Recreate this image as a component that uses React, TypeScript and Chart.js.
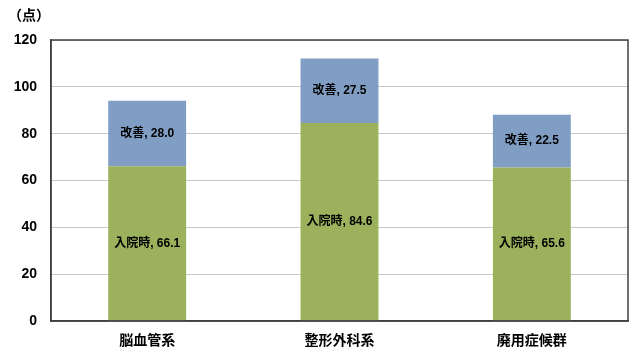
import React, { useEffect, useRef } from "react";
import { Chart, registerables } from "chart.js";

Chart.register(...registerables);

const categories = ["脳血管系", "整形外科系", "廃用症候群"];
const admissionValues = [66.1, 84.6, 65.6];
const improvementValues = [28.0, 27.5, 22.5];
const admissionName = "入院時";
const improvementName = "改善";
const yTicks = [0, 20, 40, 60, 80, 100, 120];
const unitLabel = "（点）";

const FONT = "'Liberation Sans', 'Noto Sans CJK JP', sans-serif";

export default function App() {
  const ref = useRef<HTMLCanvasElement | null>(null);
  useEffect(() => {
    document.body.style.margin = "0";
    const canvas = ref.current!;
    const labelPlugin = {
      id: "labels",
      afterDatasetsDraw(chart: any) {
        const ctx = chart.ctx;
        ctx.save();
        ctx.fillStyle = "#000";
        ctx.font = "bold 12px " + FONT;
        ctx.textAlign = "center";
        ctx.textBaseline = "middle";
        chart.data.datasets.forEach((ds: any, di: number) => {
          const meta = chart.getDatasetMeta(di);
          meta.data.forEach((bar: any, i: number) => {
            const y = (bar.y + bar.base) / 2;
            const v = ds.data[i] as number;
            ctx.fillText(ds.label + ", " + v.toFixed(1), bar.x, y);
          });
        });
        const a = chart.chartArea;
        ctx.strokeStyle = "#404040";
        ctx.lineWidth = 1.5;
        ctx.strokeRect(a.left, a.top, a.right - a.left, a.bottom - a.top);
        ctx.font = "bold 14px " + FONT;
        ctx.textAlign = "left";
        ctx.fillText(unitLabel, 8, 16);
        ctx.restore();
      },
    };
    const chart = new Chart(canvas, {
      type: "bar",
      data: {
        labels: categories,
        datasets: [
          {
            label: admissionName,
            data: admissionValues,
            backgroundColor: "#9BB15C",
            barPercentage: 0.405,
            categoryPercentage: 1,
          },
          {
            label: improvementName,
            data: improvementValues,
            backgroundColor: "#809EC4",
            barPercentage: 0.405,
            categoryPercentage: 1,
          },
        ],
      },
      options: {
        animation: false,
        responsive: false,
        maintainAspectRatio: false,
        layout: { padding: { left: 0, right: 9, top: 40, bottom: 0 } },
        plugins: { legend: { display: false }, tooltip: { enabled: false } },
        scales: {
          x: {
            stacked: true,
            grid: { display: false, drawTicks: false },
            border: { display: true, color: "#404040", width: 1.5 },
            ticks: { color: "#000", font: { size: 14, family: FONT, weight: "bold" }, padding: 12 },
            afterFit(s: any) {
              s.height = 38;
            },
          },
          y: {
            stacked: true,
            min: 0,
            max: 120,
            afterBuildTicks(s: any) {
              s.ticks = yTicks.map((v) => ({ value: v }));
            },
            grid: { color: "#C8C8C8", drawTicks: false, lineWidth: 1 },
            border: { display: true, color: "#404040", width: 1.5 },
            ticks: { color: "#000", font: { size: 14, family: FONT, weight: "bold" }, padding: 14 },
            afterFit(s: any) {
              s.width = 51;
            },
          },
        },
      },
      plugins: [labelPlugin],
    });
    return () => chart.destroy();
  }, []);
  return (
    <div style={{ width: 637, height: 359, background: "#fff" }}>
      <canvas ref={ref} width={637} height={359} style={{ display: "block" }} />
    </div>
  );
}
